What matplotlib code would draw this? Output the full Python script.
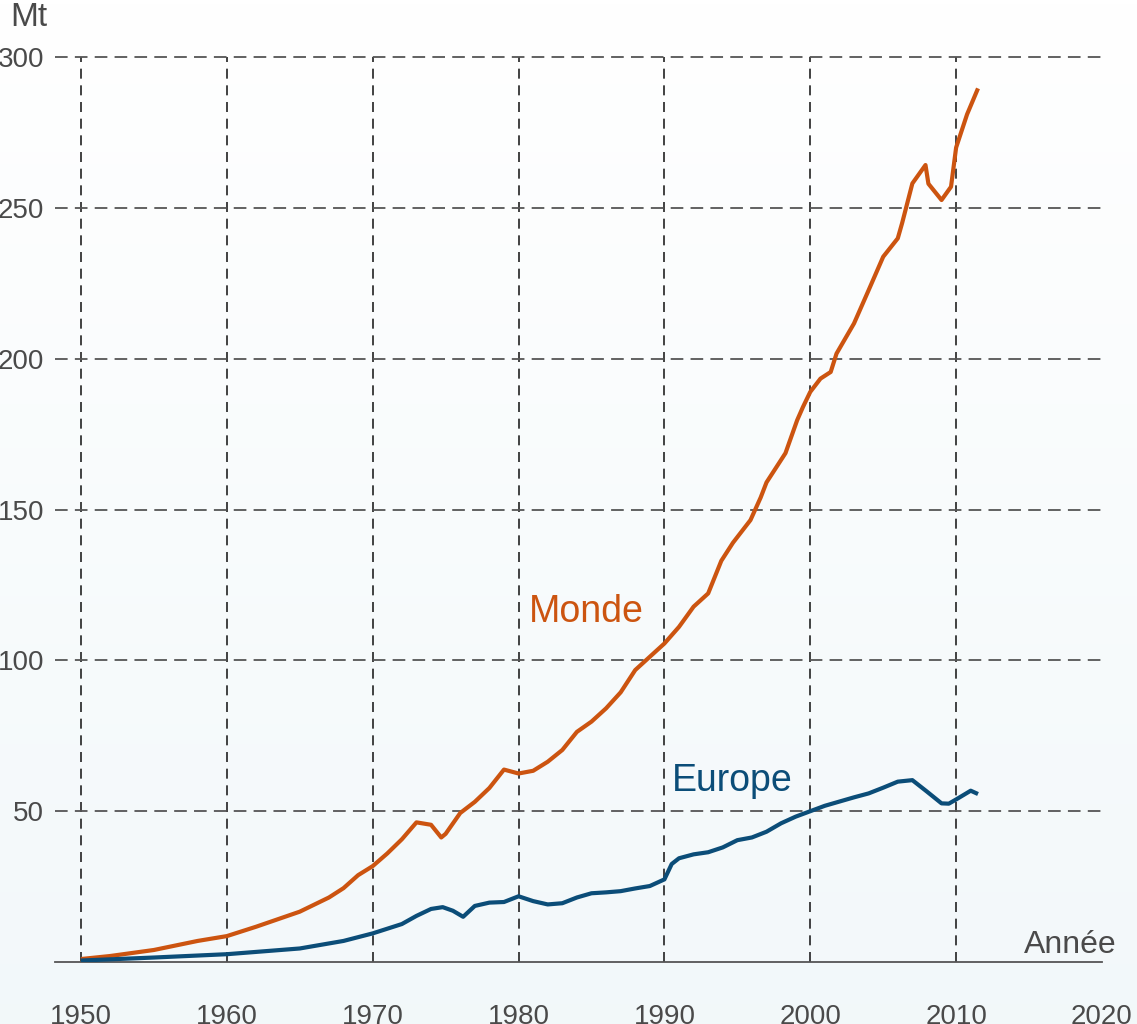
import numpy as np
import matplotlib
matplotlib.use("Agg")
import matplotlib.pyplot as plt

plt.rcParams["font.family"] = ["Liberation Sans", "DejaVu Sans"]

# production de plastique (Mt)
monde_years = [1950, 1952, 1955, 1958, 1960, 1962, 1965, 1967, 1968, 1969,
               1970, 1971, 1972, 1973, 1974, 1974.7, 1975, 1976, 1977, 1978,
               1979, 1980, 1981, 1982, 1983, 1984, 1985, 1986, 1987, 1988,
               1989, 1990, 1991, 1992, 1993, 1993.9, 1994.7, 1995.9, 1996.6,
               1997, 1998.3, 1999.1, 1999.5, 2000, 2000.7, 2001.4, 2001.8,
               2003, 2004, 2005, 2006, 2006.3, 2007, 2007.9, 2008.1, 2009,
               2009.65, 2010, 2010.75, 2011.5]
monde_values = [1.0, 2.0, 4.0, 7.0, 8.6, 11.7, 16.7, 21.4, 24.5, 28.8,
                31.8, 36.0, 40.7, 46.3, 45.5, 41.3, 42.5, 49.4, 53.1, 57.7,
                63.8, 62.5, 63.4, 66.4, 70.3, 76.3, 79.7, 84.1, 89.4, 96.8,
                101.2, 105.6, 111.1, 117.8, 122.2, 133.0, 139.0, 146.5, 154.0,
                159.0, 168.7, 179.6, 184.0, 189.0, 193.4, 195.6, 201.7,
                211.7, 222.7, 233.8, 239.9, 245.0, 258.1, 264.2, 258.0, 252.6,
                257.0, 270.0, 281.0, 289.6]

europe_years = [1950, 1955, 1960, 1965, 1968, 1970, 1972, 1973, 1974, 1974.8,
                1975.5, 1976.2, 1977, 1978, 1979, 1980, 1981, 1982, 1983, 1984,
                1985, 1986, 1987, 1988, 1989, 1990, 1990.5, 1991, 1992, 1993,
                1994, 1995, 1996, 1997, 1998, 1999, 2000, 2001, 2002, 2003,
                2004, 2005, 2006, 2007, 2008, 2009, 2009.5, 2010, 2011, 2011.5]
europe_values = [0.5, 1.5, 2.6, 4.5, 7.0, 9.5, 12.6, 15.3, 17.6, 18.2,
                 17.0, 15.0, 18.6, 19.7, 19.9, 21.8, 20.2, 19.1, 19.5, 21.4,
                 22.8, 23.1, 23.5, 24.4, 25.2, 27.4, 32.5, 34.4, 35.7, 36.4,
                 38.0, 40.4, 41.3, 43.2, 46.0, 48.2, 50.0, 51.8, 53.2, 54.6,
                 55.9, 57.8, 59.8, 60.3, 56.5, 52.6, 52.5, 53.9, 56.8, 55.7]

x_ticks = [1950, 1960, 1970, 1980, 1990, 2000, 2010, 2020]
y_ticks = [50, 100, 150, 200, 250, 300]

orange = "#cc5410"
blue = "#0b4d78"
grey = "#4a4a4a"

fig = plt.figure(figsize=(11.37, 10.24), dpi=100)

# fond en dégradé
bg = fig.add_axes([0, 0, 1, 1], zorder=-1)
grad = np.linspace(0, 1, 256).reshape(-1, 1)
top = np.array([1.0, 1.0, 1.0])
bottom = np.array([0.95, 0.973, 0.98])
img = top + (bottom - top) * grad[:, :, None]
bg.imshow(img, aspect="auto", extent=[0, 1, 0, 1])
bg.axis("off")

ax = fig.add_axes([0.0484, 0.0605, 0.9208, 0.8838])
ax.patch.set_alpha(0)
ax.set_xlim(1948.22, 2020)
ax.set_ylim(0, 300)

for x in x_ticks[:-1]:
    ax.axvline(x, color="#222222", lw=1.2, dashes=(6, 4), zorder=1, clip_on=False)
for y in y_ticks:
    ax.axhline(y, color="#555555", lw=1.3, dashes=(7, 4), zorder=1, clip_on=False)

ax.plot(monde_years, monde_values, color=orange, lw=3.0,
        solid_joinstyle="round", solid_capstyle="butt", zorder=3)
ax.plot(europe_years, europe_values, color=blue, lw=3.0,
        solid_joinstyle="round", solid_capstyle="butt", zorder=3)

for s in ["top", "right", "left"]:
    ax.spines[s].set_visible(False)
ax.spines["bottom"].set_color("#555555")
ax.spines["bottom"].set_linewidth(1.3)

ax.set_xticks(x_ticks)
ax.set_yticks(y_ticks)
ax.tick_params(axis="both", length=0, labelsize=20, labelcolor=grey)
ax.tick_params(axis="x", pad=30)
ax.tick_params(axis="y", pad=8)

ax.text(1980.7, 116, "Monde", color=orange, fontsize=27, va="center", ha="left")
ax.text(1990.5, 60, "Europe", color=blue, fontsize=27, va="center", ha="left")

fig.text(10 / 1137, 1 - 18 / 1024, "Mt", color=grey, fontsize=24,
         ha="left", va="center")
fig.text(1117 / 1137, 1 - 945 / 1024, "Année", color=grey, fontsize=23,
         ha="right", va="center")

fig.savefig("out.png", dpi=100)
